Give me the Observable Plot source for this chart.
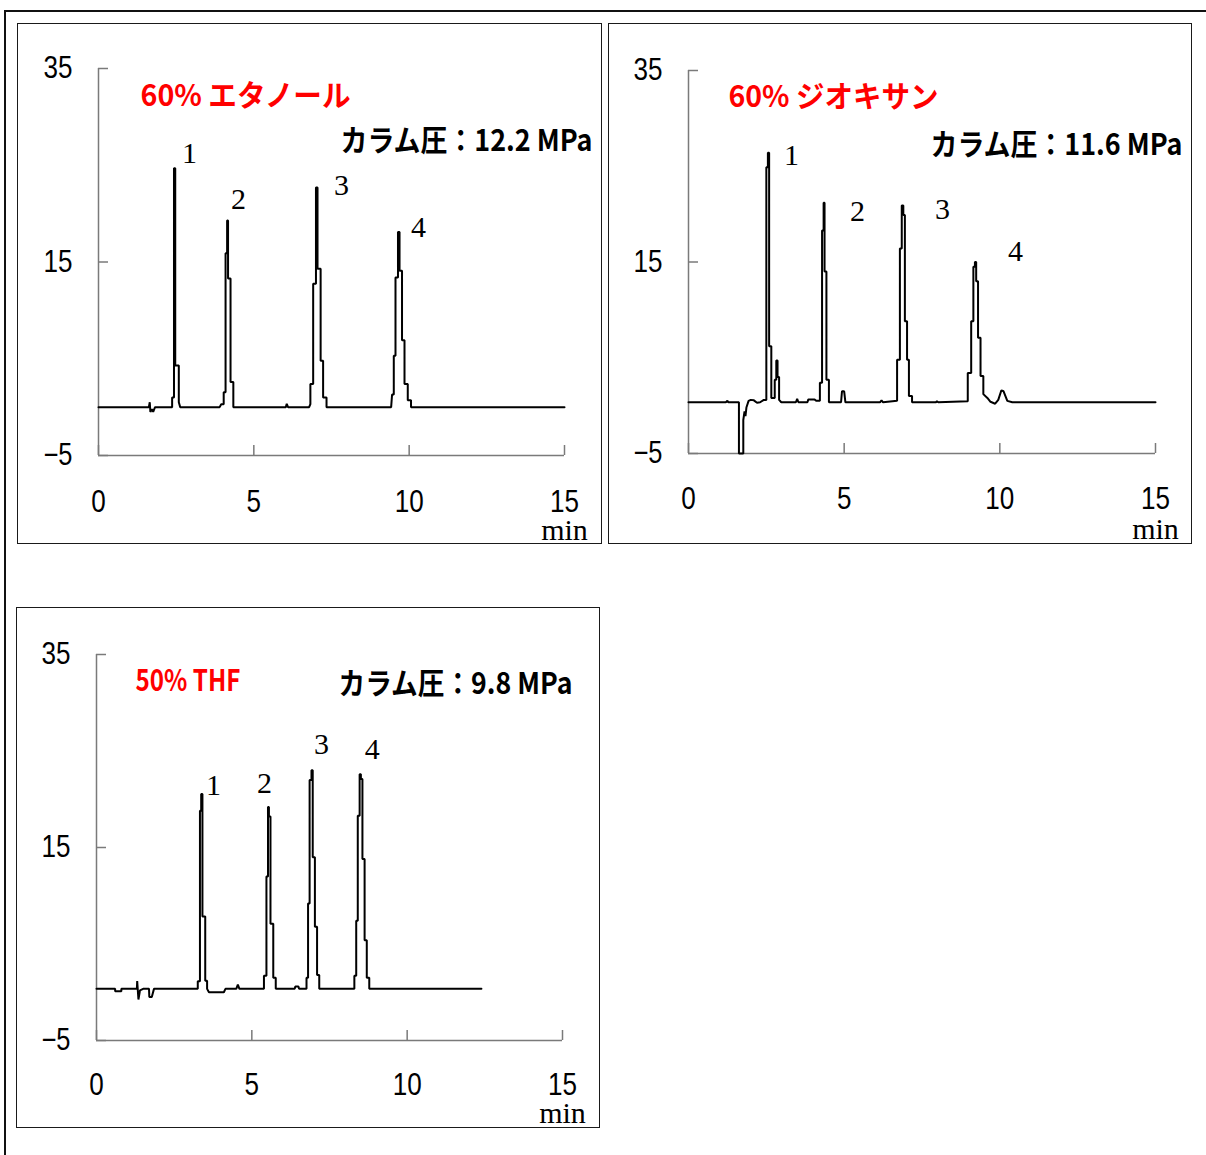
<!DOCTYPE html>
<html><head><meta charset="utf-8">
<script src="https://cdn.jsdelivr.net/npm/d3@7"></script>
<script src="https://cdn.jsdelivr.net/npm/@observablehq/plot@0.6"></script>
<style>
html,body{margin:0;padding:0;background:#fff;overflow:hidden;width:1206px;height:1155px;}
#outer{position:absolute;left:4px;top:10px;width:1400px;height:1400px;border:2px solid #111;box-sizing:border-box;}
.panel{position:absolute;background:#fff;}
.panel svg{position:absolute;left:0;top:0;overflow:visible;}
.box{position:absolute;left:0;top:0;right:0;bottom:0;border:1.5px solid #1a1a1a;box-sizing:border-box;pointer-events:none;}
</style>
</head><body>
<div id="outer"></div>
<div id="p1" class="panel" style="left:17px;top:23px;width:585px;height:521px;"></div>
<div id="p2" class="panel" style="left:608px;top:23px;width:584px;height:521px;"></div>
<div id="p3" class="panel" style="left:16px;top:607px;width:584px;height:521px;"></div>
<script>
// ---- axis ticks ----
const xTicks = [0, 5, 10, 15];
const yTicks = [-5, 15, 35];
const peakNames = ["1", "2", "3", "4"];

// ---- 60% ethanol trace [min, signal] ----
const ethanolTrace = [
 [0,0],[1.62,0],[1.65,0.5],[1.67,-0.5],[1.72,-0.2],[1.76,-0.5],[1.82,0],
 [2.37,0],[2.37,1.0],[2.43,1.0],[2.43,24.7],[2.47,24.7],[2.47,4.3],[2.585,4.3],[2.585,0.5],[2.63,0],
 [3.9,0],[3.95,0.3],[4.03,0.3],[4.03,1.55],[4.09,1.55],[4.09,15.9],[4.14,15.9],[4.14,19.3],[4.17,19.3],[4.17,13.3],[4.25,13.3],[4.25,2.6],[4.34,2.6],[4.34,0],
 [6.03,0],[6.06,0.35],[6.1,0],
 [6.78,0],[6.82,0.3],[6.82,2.4],[6.91,2.4],[6.91,12.75],[7.0,12.75],[7.0,22.7],[7.05,22.7],[7.05,14.3],[7.15,14.3],[7.15,4.8],[7.23,4.8],[7.23,1.0],[7.34,1.0],[7.34,0],
 [9.42,0],[9.45,1.3],[9.505,1.3],[9.505,5.3],[9.56,5.3],[9.56,13.4],[9.64,13.4],[9.64,18.1],[9.69,18.1],[9.69,14.1],[9.77,14.1],[9.77,6.9],[9.85,6.9],[9.85,2.4],[9.955,2.4],[9.955,0.7],[10.06,0.7],[10.06,0],
 [15,0]
];
const ethanolLabelT = [2.93, 4.51, 7.82, 10.30];
const ethanolLabelV = [26.2, 21.5, 22.9, 18.6];

// ---- 60% dioxane trace ----
const dioxaneTrace = [
 [0,0.35],[1.2,0.35],[1.25,0.5],[1.28,0.35],[1.62,0.35],[1.62,-5],[1.76,-5],[1.76,-1.5],[1.80,-0.6],[1.83,-1.1],[1.86,-0.2],[1.93,0.5],[2.0,0.6],[2.1,0.55],[2.2,0.3],[2.3,0.35],[2.42,0.6],
 [2.50,0.6],[2.50,24.9],[2.55,24.9],[2.55,26.4],[2.59,26.4],[2.59,6.2],[2.66,6.2],[2.66,0.8],[2.77,0.8],[2.77,2.7],[2.82,2.7],[2.82,4.7],[2.86,4.7],[2.86,3.0],[2.91,3.0],[2.91,0.6],[2.98,0.35],
 [3.45,0.35],[3.49,0.7],[3.53,0.35],[3.82,0.35],[3.85,0.65],[4.05,0.65],[4.1,0.5],
 [4.22,0.5],[4.22,2.4],[4.29,2.4],[4.29,18.3],[4.34,18.3],[4.34,21.2],[4.37,21.2],[4.37,14.0],[4.43,14.0],[4.43,2.7],[4.51,2.7],[4.51,0.35],
 [4.90,0.35],[4.93,1.5],[5.0,1.5],[5.04,0.35],
 [6.15,0.35],[6.2,0.55],[6.25,0.35],
 [6.70,0.5],[6.70,4.8],[6.79,4.8],[6.79,16.4],[6.85,16.4],[6.85,20.9],[6.90,20.9],[6.90,19.9],[6.95,19.9],[6.95,8.8],[7.02,8.8],[7.02,4.8],[7.08,4.8],[7.08,1.0],[7.18,1.0],[7.18,0.35],
 [7.95,0.35],[7.98,0.45],[8.02,0.35],
 [8.97,0.45],[8.97,3.4],[9.08,3.4],[9.08,8.8],[9.15,8.8],[9.15,14.5],[9.20,14.5],[9.20,15.0],[9.24,15.0],[9.24,13.0],[9.30,13.0],[9.30,7.1],[9.38,7.1],[9.38,3.1],[9.47,3.1],[9.47,1.2],[9.6,0.8],[9.7,0.4],[9.85,0.2],[9.95,0.6],[10.05,1.6],[10.12,1.5],[10.24,0.5],[10.4,0.35],
 [15,0.35]
];
const dioxaneLabelT = [3.31, 5.43, 8.16, 10.50];
const dioxaneLabelV = [26.15, 20.3, 20.5, 16.15];

// ---- 50% THF trace ----
const thfTrace = [
 [0,0.35],[0.6,0.35],[0.6,0.1],[0.8,0.1],[0.8,0.35],[1.30,0.35],[1.31,1.15],[1.35,-0.75],[1.40,0.2],[1.5,0.35],[1.69,0.35],[1.70,-0.5],[1.78,-0.5],[1.85,0.35],
 [3.26,0.35],[3.26,1.15],[3.33,1.15],[3.33,18.8],[3.37,18.8],[3.37,20.55],[3.41,20.55],[3.41,7.85],[3.50,7.85],[3.50,1.2],[3.56,1.2],[3.56,0.35],[3.62,0.0],[4.1,0.0],[4.15,0.35],
 [4.5,0.35],[4.55,0.8],[4.6,0.35],
 [5.39,0.35],[5.39,1.7],[5.47,1.7],[5.47,12.0],[5.52,12.0],[5.52,19.2],[5.55,19.2],[5.55,18.2],[5.60,18.2],[5.60,7.1],[5.69,7.1],[5.69,1.5],[5.77,1.5],[5.77,0.35],
 [6.38,0.35],[6.40,0.6],[6.5,0.6],[6.52,0.35],
 [6.76,0.35],[6.76,1.5],[6.81,1.5],[6.81,9.2],[6.86,9.2],[6.86,22.0],[6.92,22.0],[6.92,23.0],[6.96,23.0],[6.96,14.0],[7.03,14.0],[7.03,6.8],[7.10,6.8],[7.10,1.8],[7.17,1.8],[7.17,0.35],
 [8.30,0.35],[8.30,1.7],[8.36,1.7],[8.36,7.4],[8.41,7.4],[8.41,18.3],[8.47,18.3],[8.47,22.6],[8.51,22.6],[8.51,22.1],[8.56,22.1],[8.56,13.8],[8.63,13.8],[8.63,5.4],[8.70,5.4],[8.70,1.5],[8.78,1.5],[8.78,0.35],
 [12.39,0.35]
];
const thfLabelT = [3.77, 5.41, 7.24, 8.88];
const thfLabelV = [21.4, 21.6, 25.7, 25.2];

const solventTitles = ["60% エタノール", "60% ジオキサン", "50% THF"];
const pressureTitles = ["カラム圧：12.2 MPa", "カラム圧：11.6 MPa", "カラム圧：9.8 MPa"];

const tickFont = "'Liberation Sans', Arial, sans-serif";
const serifFont = "'Liberation Serif', 'DejaVu Serif', serif";
const cjkFont = "'Noto Sans CJK JP', 'Noto Sans', sans-serif";
const axisColor = "#7a7a7a";
const fmt = d => d < 0 ? "\u2212" + Math.abs(d) : String(d);
const tickLabels = new Set([...xTicks, ...yTicks].map(fmt));

const panels = [
  {id: "p1", w: 585, h: 521, mL: 81, mR: 38, mT: 45, mB: 89, trace: ethanolTrace, lt: ethanolLabelT, lv: ethanolLabelV,
   title: solventTitles[0], press: pressureTitles[0], tdx: 42, tdy: 28, pdx: 28, pdy: 73, xdy: 47, mdy: 75, tW: 210, pW: 252},
  {id: "p2", w: 584, h: 521, mL: 80, mR: 37, mT: 47, mB: 91, trace: dioxaneTrace, lt: dioxaneLabelT, lv: dioxaneLabelV,
   title: solventTitles[1], press: pressureTitles[1], tdx: 40, tdy: 27, pdx: 27, pdy: 75, xdy: 46, mdy: 76, tW: 210, pW: 252},
  {id: "p3", w: 584, h: 521, mL: 80, mR: 38, mT: 47, mB: 88, trace: thfTrace, lt: thfLabelT, lv: thfLabelV,
   title: solventTitles[2], press: pressureTitles[2], tdx: 39, tdy: 27, pdx: 10, pdy: 30, xdy: 45, mdy: 73, tW: 105, pW: 234}
];

for (const p of panels) {
  const plotW = p.w - p.mL - p.mR, plotH = p.h - p.mT - p.mB;
  const labels = peakNames.map((n, i) => ({n, t: p.lt[i], v: p.lv[i]}));
  const svg = Plot.plot({
    width: p.w, height: p.h,
    marginLeft: p.mL, marginRight: p.mR, marginTop: p.mT, marginBottom: p.mB,
    x: {domain: [0, 15], axis: null},
    y: {domain: [-5, 35], axis: null},
    style: {background: "transparent", fontFamily: tickFont, fontSize: "32px", color: "#000"},
    marks: [
      Plot.ruleX([0], {stroke: axisColor, strokeWidth: 1.5}),
      Plot.ruleY([-5], {stroke: axisColor, strokeWidth: 1.5}),
      Plot.tickX(xTicks, {x: d => d, insetTop: plotH - 10, stroke: axisColor, strokeWidth: 1.5}),
      Plot.tickY(yTicks, {y: d => d, insetRight: plotW - 10, stroke: axisColor, strokeWidth: 1.5}),
      Plot.text(xTicks, {x: d => d, text: fmt, frameAnchor: "bottom", dy: p.xdy, lineAnchor: "middle", fill: "#000", fontFamily: tickFont, fontSize: 31}),
      Plot.text(yTicks, {y: d => d, text: fmt, frameAnchor: "left", dx: -26, textAnchor: "end", lineAnchor: "middle", fill: "#000", fontFamily: tickFont, fontSize: 31}),
      Plot.text(["min"], {frameAnchor: "bottom-right", dy: p.mdy, textAnchor: "middle", lineAnchor: "middle", fill: "#000", fontFamily: serifFont, fontSize: 30}),
      Plot.line(p.trace, {x: d => d[0], y: d => d[1], stroke: "#000", strokeWidth: 2, strokeLinejoin: "miter"}),
      Plot.text(labels, {x: "t", y: "v", text: "n", fill: "#000", fontFamily: serifFont, fontSize: 30, lineAnchor: "middle"}),
      Plot.text([p.title], {frameAnchor: "top-left", dx: p.tdx, dy: p.tdy, textAnchor: "start", lineAnchor: "middle", fill: "#ff0000", fontFamily: cjkFont, fontWeight: "bold", fontSize: 30}),
      Plot.text([p.press], {frameAnchor: "top-right", dx: p.pdx, dy: p.pdy, textAnchor: "end", lineAnchor: "middle", fill: "#000", fontFamily: cjkFont, fontWeight: "bold", fontSize: 30})
    ]
  });
  // fit text widths to the reference's narrow glyph widths
  d3.select(svg).selectAll("text").each(function() {
    const t = this.textContent;
    let len = null;
    if (t === p.title) len = p.tW;
    else if (t === p.press) len = p.pW;
    else if (tickLabels.has(t) && this.closest("g") && !peakNames.includes(t)) len = t.length * 14.5;
    if (len != null) { this.setAttribute("textLength", len); this.setAttribute("lengthAdjust", "spacingAndGlyphs"); }
  });
  const el = document.getElementById(p.id);
  el.appendChild(svg);
  const box = document.createElement("div");
  box.className = "box";
  el.appendChild(box);
}
</script>
</body></html>
